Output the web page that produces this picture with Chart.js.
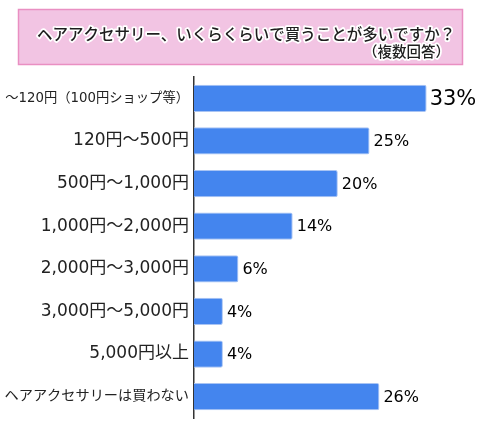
<!DOCTYPE html>
<html>
<head>
<meta charset="utf-8">
<script src="https://cdn.jsdelivr.net/npm/chart.js@4"></script>
<style>
  body { margin: 0; background: #fff; }
  canvas { display: block; }
</style>
</head>
<body>
<canvas id="myChart" width="480" height="431"></canvas>
<script>
// datos del gráfico
const categorias = [
  '〜120円（100円ショップ等）',
  '120円〜500円',
  '500円〜1,000円',
  '1,000円〜2,000円',
  '2,000円〜3,000円',
  '3,000円〜5,000円',
  '5,000円以上',
  'ヘアアクセサリーは買わない'
];
const porcentajes = [33.0, 24.9, 20.4, 14.0, 6.3, 4.1, 4.1, 26.3];
const titulo = 'ヘアアクセサリー、いくらくらいで買うことが多いですか？';
const subtitulo = '（複数回答）';

const fuenteCJK = '"Noto Sans CJK JP", "Noto Sans", sans-serif';
const fuenteNum = '"DejaVu Sans", "Noto Sans CJK JP", sans-serif';

// caja rosa del título
const cajaTitulo = {
  id: 'cajaTitulo',
  beforeDraw(chart) {
    const c = chart.ctx;
    c.save();
    c.fillStyle = '#f2c4e3';
    c.strokeStyle = '#e98fc2';
    c.lineWidth = 1.5;
    c.fillRect(18.5, 9.5, 444, 55);
    c.strokeRect(18.5, 9.5, 444, 55);

    c.lineJoin = 'round';
    c.textBaseline = 'middle';
    c.font = '500 15.5px ' + fuenteCJK;
    c.textAlign = 'left';
    c.strokeStyle = '#fff';
    c.lineWidth = 3.5;
    c.strokeText(titulo, 37, 34);
    c.fillStyle = '#1e1e1e';
    c.fillText(titulo, 37, 34);

    c.font = '500 14.5px ' + fuenteCJK;
    c.textAlign = 'right';
    c.strokeText(subtitulo, 450, 51);
    c.fillText(subtitulo, 450, 51);
    c.restore();
  }
};

// etiquetas de porcentaje al final de cada barra
const etiquetas = {
  id: 'etiquetas',
  afterDatasetsDraw(chart) {
    const c = chart.ctx;
    const meta = chart.getDatasetMeta(0);
    c.save();
    c.fillStyle = '#000';
    c.textAlign = 'left';
    c.textBaseline = 'middle';
    meta.data.forEach((barra, i) => {
      const grande = i === 0;
      c.font = (grande ? '21px ' : '16px ') + fuenteNum;
      c.fillText(Math.round(porcentajes[i]) + '%', barra.x + (grande ? 3 : 4), barra.y + 1);
    });
    c.restore();
  }
};

const ctx = document.getElementById('myChart').getContext('2d');

const myChart = new Chart(ctx, {
  type: 'bar',
  data: {
    labels: categorias,
    datasets: [{
      data: porcentajes,
      backgroundColor: '#4485ee',
      borderColor: '#a9c4f3',
      borderWidth: 1,
      borderRadius: 2,
      barPercentage: 0.64,
      categoryPercentage: 1
    }]
  },
  options: {
    indexAxis: 'y',
    responsive: false,
    animation: false,
    layout: { padding: { top: 77, bottom: 13, left: 0, right: 4 } },
    plugins: {
      legend: { display: false },
      tooltip: { enabled: false }
    },
    scales: {
      x: { display: false, min: 0, max: 40 },
      y: {
        grid: { display: false, drawTicks: false },
        border: { display: true, color: '#333', width: 1.5 },
        afterFit(scale) { scale.width = 194; },
        ticks: {
          padding: 5,
          color: '#222',
          font: (c) => {
            let size = 17;
            if (c.index === 0) size = 13.3;
            if (c.index === 7) size = 14.2;
            return { family: fuenteNum, size: size };
          }
        }
      }
    }
  },
  plugins: [cajaTitulo, etiquetas]
});
</script>
</body>
</html>
